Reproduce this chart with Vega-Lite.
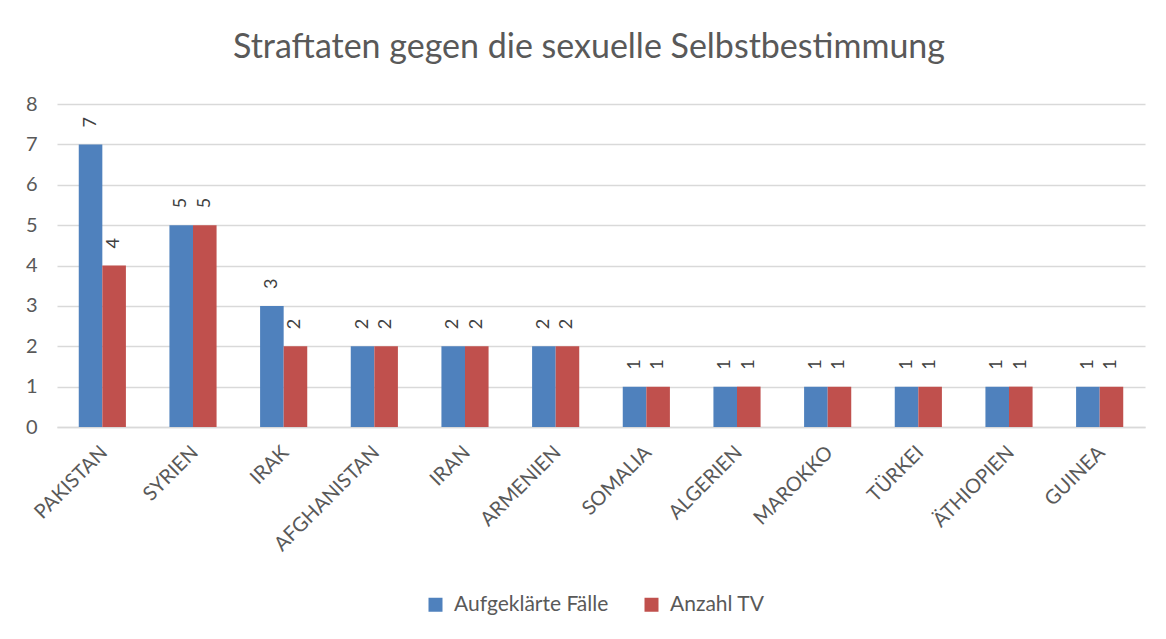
{
  "$schema": "https://vega.github.io/schema/vega-lite/v6.json",
  "width": 1088,
  "height": 323,
  "autosize": {"type": "none"},
  "padding": {"left": 57, "top": 104, "right": 21, "bottom": 212},
  "background": "white",
  "config": {"font": "Lato", "view": {"stroke": null}},
  "title": {"text": "Straftaten gegen die sexuelle Selbstbestimmung", "fontSize": 34, "font": "Lato", "fontWeight": "normal", "color": "#595959", "anchor": "middle", "dx": -12, "offset": 29},
  "data": {"values": [
    {"country": "PAKISTAN", "series": "Aufgeklärte Fälle", "value": 7},
    {"country": "PAKISTAN", "series": "Anzahl TV", "value": 4},
    {"country": "SYRIEN", "series": "Aufgeklärte Fälle", "value": 5},
    {"country": "SYRIEN", "series": "Anzahl TV", "value": 5},
    {"country": "IRAK", "series": "Aufgeklärte Fälle", "value": 3},
    {"country": "IRAK", "series": "Anzahl TV", "value": 2},
    {"country": "AFGHANISTAN", "series": "Aufgeklärte Fälle", "value": 2},
    {"country": "AFGHANISTAN", "series": "Anzahl TV", "value": 2},
    {"country": "IRAN", "series": "Aufgeklärte Fälle", "value": 2},
    {"country": "IRAN", "series": "Anzahl TV", "value": 2},
    {"country": "ARMENIEN", "series": "Aufgeklärte Fälle", "value": 2},
    {"country": "ARMENIEN", "series": "Anzahl TV", "value": 2},
    {"country": "SOMALIA", "series": "Aufgeklärte Fälle", "value": 1},
    {"country": "SOMALIA", "series": "Anzahl TV", "value": 1},
    {"country": "ALGERIEN", "series": "Aufgeklärte Fälle", "value": 1},
    {"country": "ALGERIEN", "series": "Anzahl TV", "value": 1},
    {"country": "MAROKKO", "series": "Aufgeklärte Fälle", "value": 1},
    {"country": "MAROKKO", "series": "Anzahl TV", "value": 1},
    {"country": "TÜRKEI", "series": "Aufgeklärte Fälle", "value": 1},
    {"country": "TÜRKEI", "series": "Anzahl TV", "value": 1},
    {"country": "ÄTHIOPIEN", "series": "Aufgeklärte Fälle", "value": 1},
    {"country": "ÄTHIOPIEN", "series": "Anzahl TV", "value": 1},
    {"country": "GUINEA", "series": "Aufgeklärte Fälle", "value": 1},
    {"country": "GUINEA", "series": "Anzahl TV", "value": 1}
  ]},
  "encoding": {
    "x": {"field": "country", "type": "nominal", "sort": null,
      "scale": {"paddingInner": 0.48, "paddingOuter": 0.24},
      "axis": {"title": null, "labelAngle": -45, "labelFontSize": 20, "labelColor": "#595959", "labelPadding": 15, "labelOffset": -5, "ticks": false, "domain": true, "domainColor": "#d9d9d9", "domainWidth": 1.5, "grid": false}},
    "xOffset": {"field": "series", "type": "nominal", "sort": ["Aufgeklärte Fälle", "Anzahl TV"], "scale": {"paddingInner": 0, "paddingOuter": 0}},
    "y": {"field": "value", "type": "quantitative", "scale": {"domain": [0, 8]},
      "axis": {"title": null, "values": [0, 1, 2, 3, 4, 5, 6, 7, 8], "labelFontSize": 20, "labelColor": "#595959", "labelPadding": 20, "ticks": false, "domain": false, "gridColor": "#d9d9d9", "gridWidth": 1.5}}
  },
  "layer": [
    {"mark": {"type": "bar"},
     "encoding": {"color": {"field": "series", "type": "nominal", "sort": ["Aufgeklärte Fälle", "Anzahl TV"],
       "scale": {"domain": ["Aufgeklärte Fälle", "Anzahl TV"], "range": ["#4F81BD", "#C0504D"]},
       "legend": {"title": null, "orient": "none", "direction": "horizontal", "legendX": 368, "legendY": 490, "symbolType": "square", "symbolSize": 196, "symbolStrokeWidth": 0, "labelFontSize": 21, "labelColor": "#595959", "labelOffset": 8, "columnPadding": 32}}}},
    {"mark": {"type": "text", "angle": 270, "align": "left", "baseline": "middle", "dx": 17, "fontSize": 18, "color": "#404040"},
     "encoding": {"text": {"field": "value", "type": "quantitative"}}}
  ]
}
